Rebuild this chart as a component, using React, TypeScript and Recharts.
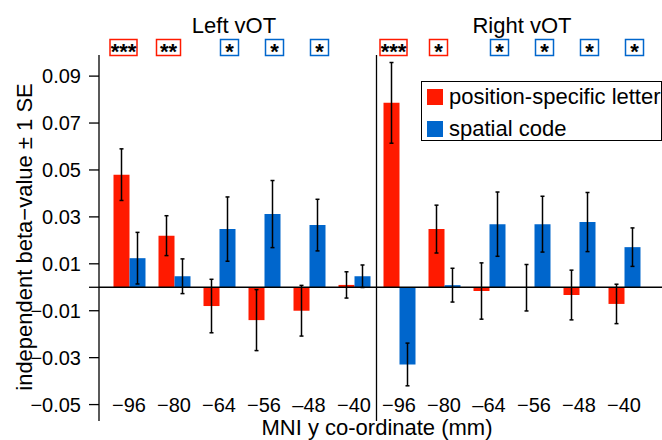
import React from "react";
import {
  BarChart,
  Bar,
  XAxis,
  YAxis,
  ErrorBar,
  ReferenceLine,
  LabelList,
  Legend
} from "recharts";

// MNI y positions, left vOT then right vOT
const categories = ["L-96", "L-80", "L-64", "L-56", "L-48", "L-40", "R-96", "R-80", "R-64", "R-56", "R-48", "R-40"];
const tickLabels = ["−96", "−80", "−64", "−56", "–48", "−40", "−96", "−80", "–64", "−56", "−48", "−40"];

const letterBeta = [0.048, 0.022, -0.008, -0.014, -0.01, 0.001, 0.0786, 0.0248, -0.0016, -0.0002, -0.0033, -0.0071];
const letterSE = [0.011, 0.0085, 0.0114, 0.013, 0.0108, 0.0056, 0.0172, 0.0102, 0.012, 0.0099, 0.0106, 0.0084];
const spatialBeta = [0.0124, 0.0047, 0.0248, 0.0312, 0.0265, 0.0047, -0.0329, 0.0009, 0.0269, 0.0269, 0.0278, 0.0171];
const spatialSE = [0.011, 0.0074, 0.0137, 0.0143, 0.011, 0.0048, 0.0091, 0.0072, 0.0137, 0.0119, 0.0126, 0.0082];

const letterSig = ["***", "**", "", "", "", "", "***", "*", "", "", "", ""];
const spatialSig = ["", "", "*", "*", "*", "", "", "", "*", "*", "*", "*"];

const yTicks = [-0.05, -0.03, -0.01, 0, 0.01, 0.03, 0.05, 0.07, 0.09];

const RED = "#ff1a00";
const BLUE = "#0066cc";
const FONT = "'Liberation Sans', Arial, Helvetica, sans-serif";

const data = categories.map((cat, i) => ({
  cat,
  label: tickLabels[i],
  letter: letterBeta[i],
  letterSE: letterSE[i],
  spatial: spatialBeta[i],
  spatialSE: spatialSE[i],
  letterSig: letterSig[i],
  spatialSig: spatialSig[i]
}));

const boxWidths = [18, 24, 27];

const sigBox = (color: string) => (props: any) => {
  const { x, width, value } = props;
  if (!value) return null;
  const w = boxWidths[String(value).length - 1];
  const cx = Number(x) + Number(width) / 2 + 2;
  return (
    <g>
      <rect x={cx - w / 2} y={39.5} width={w} height={16} fill="#fff" stroke={color} strokeWidth={1.5} />
      <text x={cx} y={58.5} textAnchor="middle" fontSize={22} fontWeight="bold" fill="#000" fontFamily={FONT}>
        {value}
      </text>
    </g>
  );
};

const XTick = ({ x, y, index }: any) => (
  <text x={x} y={y - 9.5} textAnchor="middle" fontSize={20} fill="#000" fontFamily={FONT}>
    {tickLabels[index]}
  </text>
);

const fmtY = (v: number) => (v === 0 ? "" : v < 0 ? "−" + Math.abs(v).toFixed(2) : v.toFixed(2));

const LegendBox = ({ payload }: any) => (
  <div
    style={{
      position: "relative",
      width: 241,
      height: 60,
      border: "1.5px solid #000",
      boxSizing: "border-box",
      background: "#fff",
      fontFamily: FONT,
      fontSize: 22
    }}
  >
    {(payload || []).map((p: any, i: number) => (
      <div
        key={p.value}
        style={{
          position: "absolute",
          left: 5,
          top: i === 0 ? 6.5 : 39,
          height: 16,
          display: "flex",
          alignItems: "center",
          whiteSpace: "nowrap"
        }}
      >
        <span style={{ width: 16, height: 16, background: p.color, display: "inline-block" }} />
        <span style={{ marginLeft: 6, lineHeight: "16px" }}>{p.value}</span>
      </div>
    ))}
  </div>
);

export default function App() {
  return (
    <div style={{ position: "absolute", left: 0, top: 0, width: 662, height: 440, background: "#fff" }}>
      <BarChart
        width={662}
        height={440}
        data={data}
        margin={{ top: 55, right: 0, bottom: 0, left: 0 }}
        barSize={16}
        barGap={0}
      >
        <XAxis
          dataKey="cat"
          type="category"
          axisLine={false}
          tickLine={false}
          tickSize={0}
          tickMargin={0}
          height={19}
          interval={0}
          padding={{ left: 7.5, right: 15.5 }}
          tick={<XTick />}
        />
        <YAxis
          type="number"
          width={99}
          domain={[-0.057, 0.099]}
          allowDataOverflow
          ticks={yTicks}
          interval={0}
          tickFormatter={fmtY}
          axisLine={{ stroke: "#000", strokeWidth: 1.3 }}
          tickLine={{ stroke: "#000", strokeWidth: 1.3 }}
          tickSize={10}
          tickMargin={8}
          tick={{ fill: "#000", fontSize: 20, fontFamily: FONT }}
        />
        <Legend
          layout="vertical"
          align="center"
          verticalAlign="middle"
          content={<LegendBox />}
          wrapperStyle={{ left: 421, top: 81, width: 241, height: 60 }}
        />
        <Bar dataKey="letter" name="position-specific letter" fill={RED} isAnimationActive={false}>
          <ErrorBar dataKey="letterSE" width={2} stroke="#000" strokeWidth={1.5} direction="y" isAnimationActive={false} />
          <LabelList dataKey="letterSig" content={sigBox(RED)} />
        </Bar>
        <Bar dataKey="spatial" name="spatial code" fill={BLUE} isAnimationActive={false}>
          <ErrorBar dataKey="spatialSE" width={2} stroke="#000" strokeWidth={1.5} direction="y" isAnimationActive={false} />
          <LabelList dataKey="spatialSig" content={sigBox(BLUE)} />
        </Bar>
        <ReferenceLine y={0} stroke="#000" strokeWidth={1.3} />
        <ReferenceLine x="R-96" position="start" stroke="#000" strokeWidth={1.3} />
      </BarChart>
      <svg width={662} height={440} style={{ position: "absolute", left: 0, top: 0, pointerEvents: "none" }}>
        <g fontFamily={FONT} fontSize={22} fill="#000">
          <text x={234} y={33} textAnchor="middle">Left vOT</text>
          <text x={522} y={33} textAnchor="middle">Right vOT</text>
          <text x={377} y={434.5} textAnchor="middle">MNI y co-ordinate (mm)</text>
          <text x={32} y={237} textAnchor="middle" transform="rotate(-90, 32, 237)">
            independent beta−value ± 1 SE
          </text>
        </g>
      </svg>
    </div>
  );
}
